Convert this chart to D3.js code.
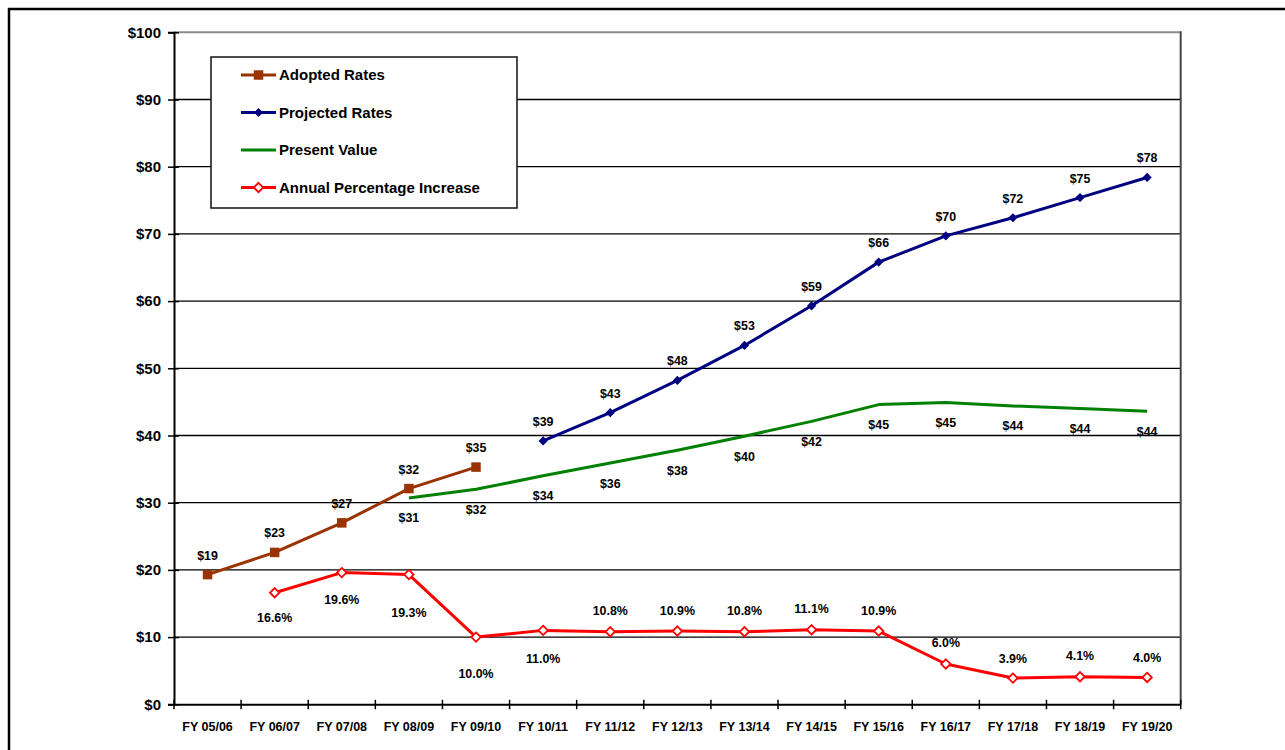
<!DOCTYPE html>
<html>
<head>
<meta charset="utf-8">
<script src="https://cdn.jsdelivr.net/npm/d3@7"></script>
<style>
  html, body { margin: 0; padding: 0; background: #fff; }
  svg text { font-family: "Liberation Sans", Arial, sans-serif; font-weight: bold; fill: #000; }
</style>
</head>
<body>
<svg id="chart" width="1285" height="750"></svg>
<script>
// Fiscal years on the horizontal axis
const categories = ["FY 05/06", "FY 06/07", "FY 07/08", "FY 08/09", "FY 09/10", "FY 10/11",
  "FY 11/12", "FY 12/13", "FY 13/14", "FY 14/15", "FY 15/16", "FY 16/17", "FY 17/18",
  "FY 18/19", "FY 19/20"];

// Rates in dollars (null where the series has no value)
const adoptedRates = [19.3, 22.6, 27.0, 32.1, 35.3, null, null, null, null, null, null, null, null, null, null];
const projectedRates = [null, null, null, null, null, 39.2, 43.4, 48.2, 53.4, 59.3, 65.8, 69.7, 72.4, 75.4, 78.4];
const presentValue = [null, null, null, 30.7, 32.0, 34.0, 35.9, 37.8, 39.9, 42.1, 44.6, 44.9, 44.4, 44.0, 43.6];
// Annual percentage increase, plotted against the same numeric axis
const annualIncrease = [null, 16.6, 19.6, 19.3, 10.0, 11.0, 10.8, 10.9, 10.8, 11.1, 10.9, 6.0, 3.9, 4.1, 4.0];

const yTicks = [0, 10, 20, 30, 40, 50, 60, 70, 80, 90, 100];
const legendLabels = ["Adopted Rates", "Projected Rates", "Present Value", "Annual Percentage Increase"];

// Vertical offsets of the percentage labels relative to their markers
const pctLabelDy = [0, 25, 27, 38, 36, 28, -21, -21, -21, -21, -21, -21, -20, -21, -20];

const colors = { adopted: "#993300", projected: "#000080", present: "#008000", pct: "#FF0000" };

const svg = d3.select("#chart");

// Outer frame
svg.append("path")
  .attr("d", "M9,760 L9,9 L1300,9")
  .attr("fill", "none").attr("stroke", "#000").attr("stroke-width", 2.5);

const plot = { left: 174, right: 1180.7, top: 32.3, bottom: 704.3 };

const x = d3.scaleBand().domain(categories).range([plot.left, plot.right]).padding(0);
const y = d3.scaleLinear().domain([0, 100]).range([plot.bottom, plot.top]);
const cx = d => x(d) + x.bandwidth() / 2;

// Horizontal gridlines
svg.append("g").selectAll("line").data(yTicks.filter(t => t > 0)).join("line")
  .attr("x1", plot.left).attr("x2", plot.right)
  .attr("y1", d => y(d)).attr("y2", d => y(d))
  .attr("stroke", d => d === 100 ? "#8a8a8a" : "#000")
  .attr("stroke-width", d => d === 100 ? 2 : 1.3);

// Right border of the plot area
svg.append("line")
  .attr("x1", plot.right).attr("x2", plot.right)
  .attr("y1", plot.top - 1).attr("y2", plot.bottom)
  .attr("stroke", "#444").attr("stroke-width", 2);

// Y axis
const yAxis = svg.append("g")
  .attr("transform", `translate(${plot.left},0)`)
  .call(d3.axisLeft(y).tickValues(yTicks).tickSize(6).tickPadding(7).tickFormat(d => "$" + d));
yAxis.select(".domain").attr("stroke", "#000").attr("stroke-width", 2);
yAxis.selectAll(".tick line").attr("stroke", "#000").attr("stroke-width", 1.5).attr("x1", 5);
yAxis.selectAll(".tick text").attr("font-size", 15).attr("font-family", "Liberation Sans, Arial, sans-serif")
  .attr("font-weight", "bold").attr("fill", "#000");

// X axis (labels centred on each band, ticks on band boundaries)
const xAxis = svg.append("g")
  .attr("transform", `translate(0,${plot.bottom})`)
  .call(d3.axisBottom(x).tickSize(0).tickPadding(18));
xAxis.select(".domain").attr("stroke", "#000").attr("stroke-width", 2);
xAxis.selectAll(".tick text").attr("font-size", 12.5).attr("font-family", "Liberation Sans, Arial, sans-serif")
  .attr("font-weight", "bold").attr("fill", "#000");

const boundaries = categories.map(c => x(c)).concat([plot.right]);
svg.append("g").selectAll("line").data(boundaries).join("line")
  .attr("x1", d => d).attr("x2", d => d)
  .attr("y1", plot.bottom - 4.5).attr("y2", plot.bottom + 5)
  .attr("stroke", "#000").attr("stroke-width", 1.5);

// Series helpers
const pts = arr => arr.map((v, i) => ({ v, c: categories[i], i })).filter(p => p.v !== null);
const line = d3.line().x(p => cx(p.c)).y(p => y(p.v));

function drawLine(arr, color) {
  svg.append("path").datum(pts(arr))
    .attr("d", line).attr("fill", "none")
    .attr("stroke", color).attr("stroke-width", 3).attr("stroke-linejoin", "round");
}

// Square-proportioned diamond (a square rotated 45 degrees)
const rhombus = {
  draw(ctx, size) {
    const r = Math.sqrt(size / 2);
    ctx.moveTo(0, -r); ctx.lineTo(r, 0); ctx.lineTo(0, r); ctx.lineTo(-r, 0); ctx.closePath();
  }
};

const squareSym = d3.symbol().type(d3.symbolSquare).size(90);
const diamondSym = d3.symbol().type(rhombus).size(42);
const hollowDiamond = d3.symbol().type(rhombus).size(44);

// Adopted rates
drawLine(adoptedRates, colors.adopted);
svg.append("g").selectAll("path").data(pts(adoptedRates)).join("path")
  .attr("d", squareSym)
  .attr("transform", p => `translate(${cx(p.c)},${y(p.v)})`)
  .attr("fill", colors.adopted);

// Projected rates
drawLine(projectedRates, colors.projected);
svg.append("g").selectAll("path").data(pts(projectedRates)).join("path")
  .attr("d", diamondSym)
  .attr("transform", p => `translate(${cx(p.c)},${y(p.v)})`)
  .attr("fill", colors.projected);

// Present value
drawLine(presentValue, colors.present);

// Annual percentage increase
drawLine(annualIncrease, colors.pct);
svg.append("g").selectAll("path").data(pts(annualIncrease)).join("path")
  .attr("d", hollowDiamond)
  .attr("transform", p => `translate(${cx(p.c)},${y(p.v)})`)
  .attr("fill", "#fff").attr("stroke", colors.pct).attr("stroke-width", 1.8);

// Data labels
function labels(arr, fmt, dyFn) {
  svg.append("g").selectAll("text").data(pts(arr)).join("text")
    .attr("x", p => cx(p.c))
    .attr("y", p => y(p.v) + dyFn(p))
    .attr("dy", "0.36em")
    .attr("text-anchor", "middle")
    .attr("font-size", 12.4)
    .text(p => fmt(p.v));
}
labels(adoptedRates, v => "$" + Math.round(v), () => -19.5);
labels(projectedRates, v => "$" + Math.round(v), () => -19.5);
labels(presentValue, v => "$" + Math.round(v), () => 20);
labels(annualIncrease, v => v.toFixed(1) + "%", p => pctLabelDy[p.i]);

// Legend
const legend = svg.append("g");
legend.append("rect")
  .attr("x", 211).attr("y", 57).attr("width", 306).attr("height", 151)
  .attr("fill", "#fff").attr("stroke", "#111").attr("stroke-width", 1.5);

const legendColors = [colors.adopted, colors.projected, colors.present, colors.pct];
const legendRows = legend.selectAll("g").data(legendLabels).join("g")
  .attr("transform", (d, i) => `translate(0,${75 + i * 37.5})`);
legendRows.append("line")
  .attr("x1", 241).attr("x2", 276).attr("y1", 0).attr("y2", 0)
  .attr("stroke", (d, i) => legendColors[i]).attr("stroke-width", 3);
legendRows.filter((d, i) => i === 0).append("path")
  .attr("d", squareSym).attr("transform", "translate(258.5,0)").attr("fill", colors.adopted);
legendRows.filter((d, i) => i === 1).append("path")
  .attr("d", diamondSym).attr("transform", "translate(258.5,0)").attr("fill", colors.projected);
legendRows.filter((d, i) => i === 3).append("path")
  .attr("d", hollowDiamond).attr("transform", "translate(258.5,0)")
  .attr("fill", "#fff").attr("stroke", colors.pct).attr("stroke-width", 1.8);
legendRows.append("text")
  .attr("x", 279).attr("y", 0).attr("dy", "0.36em")
  .attr("font-size", 15)
  .text(d => d);
</script>
</body>
</html>
